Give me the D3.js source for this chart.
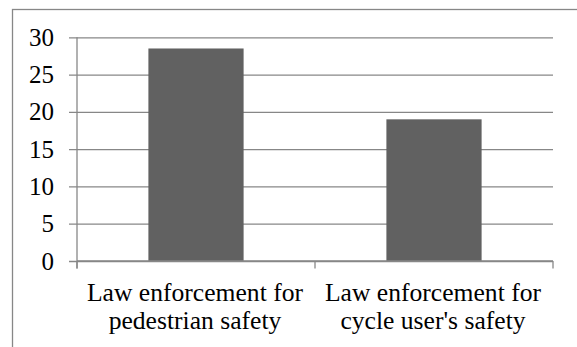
<!DOCTYPE html>
<html>
<head>
<meta charset="utf-8">
<script src="https://cdn.jsdelivr.net/npm/d3@7"></script>
</head>
<body style="margin:0">
<svg id="chart" width="577" height="347"></svg>
<script>
// Chart data
const categories = ["Law enforcement for pedestrian safety", "Law enforcement for cycle user's safety"];
const values = [28.5, 19];
const yTicks = [0, 5, 10, 15, 20, 25, 30];

const FONT = '"Liberation Serif", "Times New Roman", serif';
const svg = d3.select("#chart");
const plot = { left: 77, right: 553, top: 37.3, bottom: 261 };
const axisColor = "#878787";
const barColor = "#616161";

// Outer frame of the chart area (continues past the visible edge)
svg.append("rect")
  .attr("x", 12.5).attr("y", 9.5)
  .attr("width", 700).attr("height", 500)
  .attr("fill", "none")
  .attr("stroke", axisColor)
  .attr("stroke-width", 1.3);

const x = d3.scaleBand()
  .domain(categories)
  .range([plot.left, plot.right])
  .paddingInner(0.6)
  .paddingOuter(0.3);

const y = d3.scaleLinear()
  .domain([0, 30])
  .range([plot.bottom, plot.top]);

// Horizontal gridlines with left tick marks
const yAxis = d3.axisLeft(y)
  .tickValues(yTicks)
  .tickSize(plot.right - plot.left + 8)
  .tickPadding(15)
  .tickFormat(d3.format("d"));

const gy = svg.append("g")
  .attr("transform", `translate(${plot.right},0)`)
  .call(yAxis);
gy.select(".domain").remove();
gy.selectAll(".tick line")
  .attr("stroke", axisColor)
  .attr("stroke-width", 1.3);
gy.selectAll(".tick text")
  .style("font-family", FONT)
  .style("font-size", "25px")
  .attr("fill", "#000");

// Bars
svg.append("g")
  .selectAll("rect")
  .data(categories.map((c, i) => ({ c, v: values[i] })))
  .join("rect")
  .attr("x", d => x(d.c))
  .attr("y", d => y(d.v))
  .attr("width", x.bandwidth())
  .attr("height", d => y(0) - y(d.v))
  .attr("fill", barColor);

// Vertical axis line
svg.append("line")
  .attr("x1", plot.left).attr("x2", plot.left)
  .attr("y1", plot.top).attr("y2", plot.bottom + 7.5)
  .attr("stroke", axisColor)
  .attr("stroke-width", 1.3);

// Category axis: baseline and ticks between categories
svg.append("line")
  .attr("x1", plot.left).attr("x2", plot.right)
  .attr("y1", plot.bottom).attr("y2", plot.bottom)
  .attr("stroke", axisColor)
  .attr("stroke-width", 1.3);

const step = x.step();
const boundaries = d3.range(categories.length + 1).map(i => plot.left + i * step);
svg.append("g")
  .selectAll("line")
  .data(boundaries)
  .join("line")
  .attr("x1", d => d).attr("x2", d => d)
  .attr("y1", plot.bottom).attr("y2", plot.bottom + 7.5)
  .attr("stroke", axisColor)
  .attr("stroke-width", 1.3);

// Category labels, wrapped to the category width
const labels = svg.append("g")
  .selectAll("text")
  .data(categories)
  .join("text")
  .attr("x", d => x(d) + x.bandwidth() / 2 - 1)
  .attr("y", 300.7)
  .attr("text-anchor", "middle")
  .style("font-family", FONT)
  .style("font-size", "25.6px")
  .attr("fill", "#000");

labels.each(function (d) {
  const text = d3.select(this);
  const cx = +text.attr("x");
  const words = d.split(" ");
  let line = [];
  let tspan = text.append("tspan").attr("x", cx).attr("dy", 0);
  for (const w of words) {
    line.push(w);
    tspan.text(line.join(" "));
    if (tspan.node().getComputedTextLength() > step - 10 && line.length > 1) {
      line.pop();
      tspan.text(line.join(" "));
      line = [w];
      tspan = text.append("tspan").attr("x", cx).attr("dy", 28.6).text(w);
    }
  }
});
</script>
</body>
</html>
